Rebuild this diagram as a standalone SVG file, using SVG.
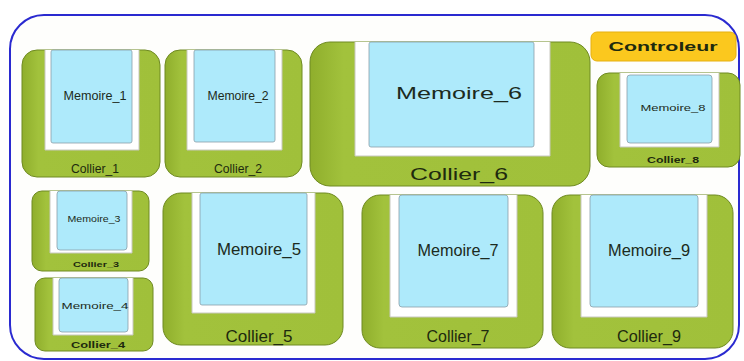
<svg xmlns="http://www.w3.org/2000/svg" width="744" height="361" viewBox="0 0 744 361">
<style>
.frame{fill:#fefefc;stroke:#2a2ad0;stroke-width:2}
.col{fill:url(#g);stroke:#6f8a22;stroke-width:1}
.wh{fill:#ffffff;stroke:#c8c8c0;stroke-width:1}
.mem{fill:#aeeafb;stroke:#8aa0aa;stroke-width:0.8}
.t{font-family:"Liberation Sans",Arial,sans-serif;fill:#1c2a20;text-anchor:middle}
.ct{font-family:"Liberation Sans",Arial,sans-serif;fill:#1e2a0e;text-anchor:middle}
.ctrl{fill:#fbc81e;stroke:#e6b010;stroke-width:1}
</style>
<defs>
<linearGradient id="g" x1="0" y1="0" x2="1" y2="0">
<stop offset="0" stop-color="#8fae2c"/>
<stop offset="0.12" stop-color="#a2c23c"/>
<stop offset="1" stop-color="#a0c03a"/>
</linearGradient>
</defs>
<rect class="frame" x="10" y="15" width="729" height="344" rx="34"/>
<g id="controleur">
<rect class="ctrl" x="591" y="32" width="145" height="29" rx="6"/>
<text class="ct" x="663" y="51" font-size="13.5" font-weight="bold" textLength="109" lengthAdjust="spacingAndGlyphs" fill="#3a2a05">Controleur</text>
</g>
<g id="collier_1">
<rect class="col" x="22" y="50" width="138" height="127" rx="15"/>
<path class="wh" d="M45 50 V150 H139 V50"/>
<rect class="mem" x="51" y="50" width="81" height="93" rx="2"/>
<text class="t" x="95" y="100" font-size="12" textLength="63" lengthAdjust="spacingAndGlyphs">Memoire_1</text>
<text class="ct" x="95" y="173" font-size="12" textLength="48" lengthAdjust="spacingAndGlyphs">Collier_1</text>
</g>
<g id="collier_2">
<rect class="col" x="165" y="50" width="137" height="127" rx="15"/>
<path class="wh" d="M187 50 V150 H282 V50"/>
<rect class="mem" x="194" y="50" width="81" height="92" rx="2"/>
<text class="t" x="238" y="100" font-size="12" textLength="61" lengthAdjust="spacingAndGlyphs">Memoire_2</text>
<text class="ct" x="238" y="173" font-size="12" textLength="48" lengthAdjust="spacingAndGlyphs">Collier_2</text>
</g>
<g id="collier_6">
<rect class="col" x="310" y="42" width="280" height="144" rx="20"/>
<path class="wh" d="M355 42 V156 H550 V42"/>
<rect class="mem" x="369" y="42" width="165" height="105" rx="2"/>
<text class="t" x="459" y="99" font-size="17" textLength="126" lengthAdjust="spacingAndGlyphs">Memoire_6</text>
<text class="ct" x="459" y="180" font-size="17" textLength="98" lengthAdjust="spacingAndGlyphs">Collier_6</text>
</g>
<g id="collier_8">
<rect class="col" x="597" y="73" width="143" height="94" rx="12"/>
<path class="wh" d="M620 73 V147 H719 V73"/>
<rect class="mem" x="627" y="75" width="85" height="68" rx="3"/>
<text class="t" x="673" y="111" font-size="9.5" textLength="65" lengthAdjust="spacingAndGlyphs">Memoire_8</text>
<text class="ct" x="673" y="163" font-size="8.5" font-weight="bold" textLength="52" lengthAdjust="spacingAndGlyphs">Collier_8</text>
</g>
<g id="collier_3">
<rect class="col" x="32" y="191" width="117" height="80" rx="10"/>
<path class="wh" d="M50 191 V253 H132 V191"/>
<rect class="mem" x="57" y="191" width="70" height="59" rx="3"/>
<text class="t" x="94" y="222" font-size="8.5" textLength="53" lengthAdjust="spacingAndGlyphs">Memoire_3</text>
<text class="ct" x="96" y="267" font-size="8" font-weight="bold" textLength="46" lengthAdjust="spacingAndGlyphs">Collier_3</text>
</g>
<g id="collier_4">
<rect class="col" x="35" y="278" width="118" height="73" rx="10"/>
<path class="wh" d="M53 278 V335 H133 V278"/>
<rect class="mem" x="59" y="278" width="69" height="54" rx="3"/>
<text class="t" x="95" y="309" font-size="9" textLength="67" lengthAdjust="spacingAndGlyphs">Memoire_4</text>
<text class="ct" x="98" y="348" font-size="8.5" font-weight="bold" textLength="54" lengthAdjust="spacingAndGlyphs">Collier_4</text>
</g>
<g id="collier_5">
<rect class="col" x="163" y="193" width="180" height="152" rx="18"/>
<path class="wh" d="M192 193 V313 H315 V193"/>
<rect class="mem" x="200" y="193" width="107" height="112" rx="2"/>
<text class="t" x="259" y="255" font-size="17" textLength="84" lengthAdjust="spacingAndGlyphs">Memoire_5</text>
<text class="ct" x="259" y="342" font-size="16" textLength="67" lengthAdjust="spacingAndGlyphs">Collier_5</text>
</g>
<g id="collier_7">
<rect class="col" x="362" y="195" width="181" height="153" rx="18"/>
<path class="wh" d="M390 195 V317 H517 V195"/>
<rect class="mem" x="399" y="195" width="109" height="112" rx="3"/>
<text class="t" x="458" y="256" font-size="16" textLength="81" lengthAdjust="spacingAndGlyphs">Memoire_7</text>
<text class="ct" x="458" y="342" font-size="16" textLength="63" lengthAdjust="spacingAndGlyphs">Collier_7</text>
</g>
<g id="collier_9">
<rect class="col" x="552" y="195" width="181" height="153" rx="18"/>
<path class="wh" d="M581 195 V317 H707 V195"/>
<rect class="mem" x="590" y="195" width="108" height="112" rx="3"/>
<text class="t" x="649" y="256" font-size="16" textLength="82" lengthAdjust="spacingAndGlyphs">Memoire_9</text>
<text class="ct" x="649" y="342" font-size="16" textLength="64" lengthAdjust="spacingAndGlyphs">Collier_9</text>
</g>
<g id="connectors"></g>
</svg>
